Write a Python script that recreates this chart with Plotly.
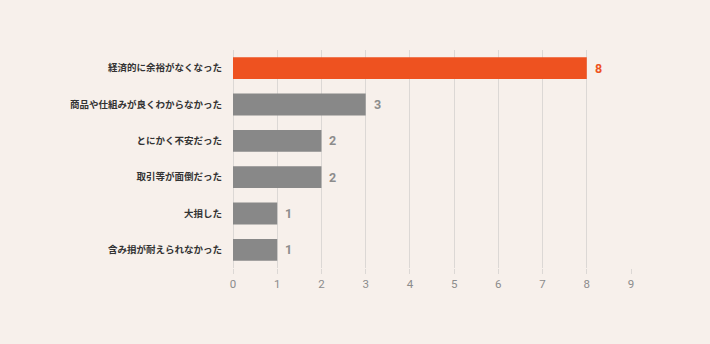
import plotly.graph_objects as go

categories = ["経済的に余裕がなくなった", "商品や仕組みが良くわからなかった", "とにかく不安だった",
              "取引等が面倒だった", "大損した", "含み損が耐えられなかった"]
values = [8, 3, 2, 2, 1, 1]
colors = ["#ee5220", "#888888", "#888888", "#888888", "#888888", "#888888"]
text_colors = ["#ee5220", "#8c8c8c", "#8c8c8c", "#8c8c8c", "#8c8c8c", "#8c8c8c"]
tick_vals = list(range(0, 10))

fig = go.Figure(go.Bar(
    x=values, y=categories, orientation="h",
    marker=dict(color=colors, line=dict(width=0)),
    width=0.6,
    cliponaxis=False,
))
for cat, v, c in zip(categories, values, text_colors):
    fig.add_annotation(x=v, y=cat, text=str(v), showarrow=False, xanchor="left", xshift=6,
                       font=dict(color=c, size=12.5, family="Liberation Sans Narrow, Roboto, sans-serif",
                                 weight="bold"))
fig.update_layout(
    width=710, height=344,
    margin=dict(l=233, r=79, t=50, b=76),
    paper_bgcolor="#f7f0eb", plot_bgcolor="#f7f0eb",
    showlegend=False,
    xaxis=dict(range=[0, 9], tickvals=tick_vals, showgrid=True, gridcolor="#dcd8d5", gridwidth=1,
               zeroline=True, zerolinecolor="#dcd8d5", zerolinewidth=1,
               tickfont=dict(color="#8c8c8c", size=11.5, family="Liberation Sans Narrow, Roboto, sans-serif"),
               ticks="outside", ticklen=5, tickcolor="#dcd8d5", showline=False),
    yaxis=dict(autorange="reversed", showgrid=False, zeroline=False, ticks="", ticklabelstandoff=10,
               tickfont=dict(color="#333333", size=9.5, family="Noto Sans CJK JP", weight="bold")),
    font=dict(family="Noto Sans CJK JP"),
)
fig.write_html("out.html")
